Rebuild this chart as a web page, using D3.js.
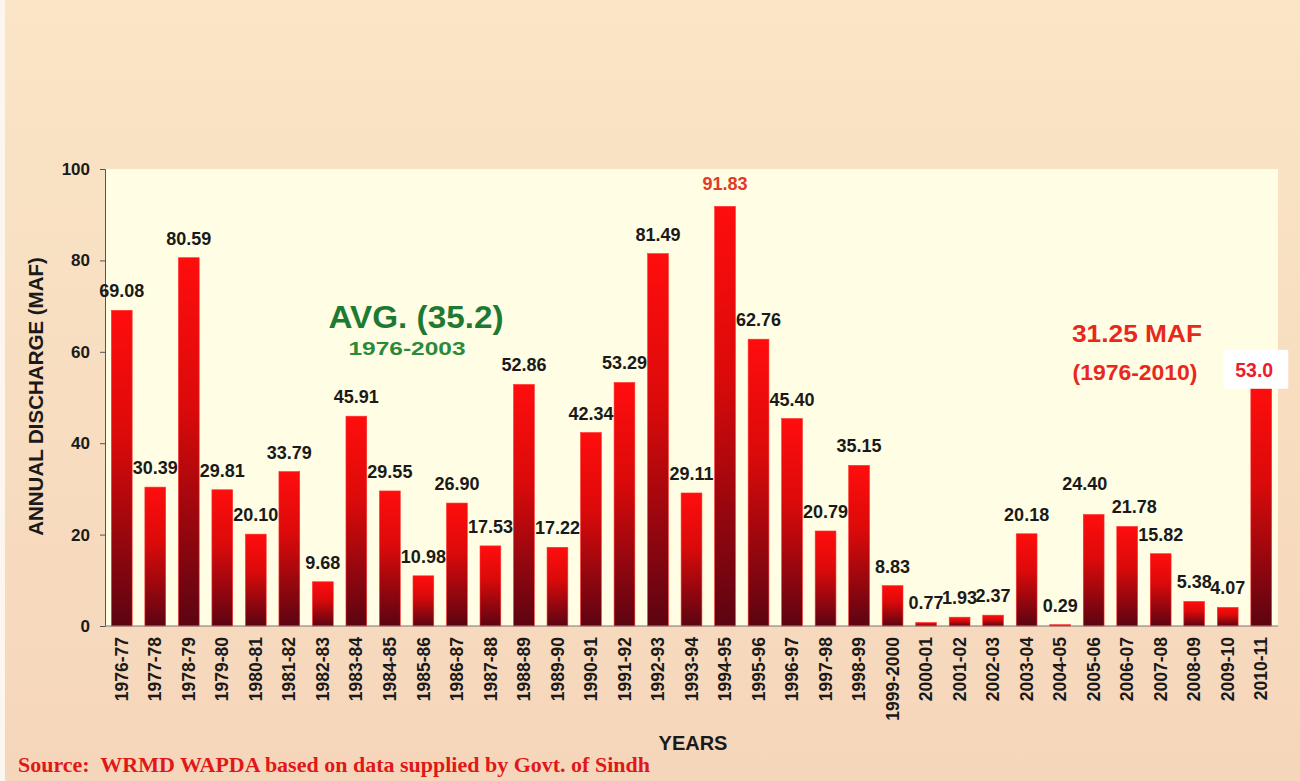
<!DOCTYPE html>
<html>
<head>
<meta charset="utf-8">
<script src="https://cdn.jsdelivr.net/npm/d3@7"></script>
<style>
  body { margin: 0; background: #f6dcc0; }
  svg { display: block; }
</style>
</head>
<body>
<div id="chart"></div>
<script>
// Data
const years = ["1976-77","1977-78","1978-79","1979-80","1980-81","1981-82","1982-83","1983-84",
  "1984-85","1985-86","1986-87","1987-88","1988-89","1989-90","1990-91","1991-92","1992-93",
  "1993-94","1994-95","1995-96","1996-97","1997-98","1998-99","1999-2000","2000-01","2001-02",
  "2002-03","2003-04","2004-05","2005-06","2006-07","2007-08","2008-09","2009-10","2010-11"]
const discharge = [69.08,30.39,80.59,29.81,20.10,33.79,9.68,45.91,29.55,10.98,26.90,17.53,52.86,
  17.22,42.34,53.29,81.49,29.11,91.83,62.76,45.40,20.79,35.15,8.83,0.77,1.93,2.37,20.18,0.29,
  24.40,21.78,15.82,5.38,4.07,53.0]
const labels = ["69.08","30.39","80.59","29.81","20.10","33.79","9.68","45.91","29.55","10.98",
  "26.90","17.53","52.86","17.22","42.34","53.29","81.49","29.11","91.83","62.76","45.40","20.79",
  "35.15","8.83","0.77","1.93","2.37","20.18","0.29","24.40","21.78","15.82","5.38","4.07","53.0"]
const yTicks = [0, 20, 40, 60, 80, 100]

const svgWidth = 1300
const svgHeight = 781

let margin = { top: 169, right: 22, bottom: 155, left: 105 }
let width = svgWidth - margin.left - margin.right
let height = svgHeight - margin.top - margin.bottom

// a few labels sit off-centre in the original, nudge them (index: [dx, dy])
let nudge = { 18: [0, -3], 29: [-9, -11], 30: [7, 0] }

let svg = d3.select("#chart")
  .append("svg")
  .attr("width", svgWidth)
  .attr("height", svgHeight)

let defs = svg.append("defs")

// page background, a bit lighter at the top
let bg = defs.append("linearGradient").attr("id", "bg")
  .attr("x1", 0).attr("y1", 0).attr("x2", 0).attr("y2", 1)
bg.append("stop").attr("offset", "0%").attr("stop-color", "#fae5c6")
bg.append("stop").attr("offset", "100%").attr("stop-color", "#f6d6bb")

let barGrad = defs.append("linearGradient").attr("id", "barGrad")
  .attr("x1", 0).attr("y1", 0).attr("x2", 0).attr("y2", 1)
barGrad.append("stop").attr("offset", "0%").attr("stop-color", "#ff0d0d")
barGrad.append("stop").attr("offset", "40%").attr("stop-color", "#dc0a0a")
barGrad.append("stop").attr("offset", "100%").attr("stop-color", "#5c0412")

svg.append("rect").attr("width", svgWidth).attr("height", svgHeight).attr("fill", "url(#bg)")
// scan edge on the left
svg.append("rect").attr("width", 5).attr("height", svgHeight).attr("fill", "#fdf6ee")

let chartGroup = svg.append("g")
  .attr("transform", `translate(${margin.left}, ${margin.top})`)

let x = d3.scaleBand().domain(years).range([0, width]).paddingInner(0.38).paddingOuter(0.19)
let y = d3.scaleLinear().domain([0, 100]).range([height, 0])

// plot area
chartGroup.append("rect")
  .attr("width", width).attr("height", height)
  .attr("fill", "#fffde3")

// bars
chartGroup.selectAll("rect.bar")
  .data(discharge)
  .enter()
  .append("rect")
  .attr("class", "bar")
  .attr("x", (d, i) => x(years[i]))
  .attr("y", d => y(d))
  .attr("width", x.bandwidth())
  .attr("height", d => height - y(d))
  .attr("fill", "url(#barGrad)")
  .attr("stroke", "#ff3030")
  .attr("stroke-width", 0.6)

// axes
let leftAxis = d3.axisLeft(y).tickValues(yTicks).tickSize(5).tickPadding(10)
let yAxis = chartGroup.append("g").call(leftAxis)
yAxis.select(".domain").attr("stroke", "#555")
yAxis.selectAll(".tick line").attr("stroke", "#555")
yAxis.selectAll("text")
  .style("font", "bold 17px 'Liberation Sans', Arial, sans-serif")
  .attr("fill", "#1a1a1a")

chartGroup.append("line")
  .attr("x1", 0).attr("x2", width).attr("y1", height).attr("y2", height)
  .attr("stroke", "#777").attr("stroke-width", 1)

let bottomAxis = d3.axisBottom(x).tickSize(0).tickPadding(0)
let xAxis = chartGroup.append("g")
  .attr("transform", `translate(0, ${height})`)
  .call(bottomAxis)
xAxis.select(".domain").remove()
xAxis.selectAll("text")
  .attr("transform", "rotate(-90)")
  .attr("text-anchor", "end")
  .attr("x", -11)
  .attr("y", 0)
  .attr("dy", "0.35em")
  .style("font", "bold 17.5px 'Liberation Sans', Arial, sans-serif")
  .attr("fill", "#1a1a1a")

// value labels
chartGroup.selectAll("text.val")
  .data(discharge)
  .enter()
  .append("text")
  .attr("class", "val")
  .attr("x", (d, i) => x(years[i]) + x.bandwidth() / 2 + (nudge[i] ? nudge[i][0] : 0))
  .attr("y", (d, i) => y(d) - 13 + (nudge[i] ? nudge[i][1] : 0))
  .attr("text-anchor", "middle")
  .style("font", "bold 18px 'Liberation Sans', Arial, sans-serif")
  .attr("fill", (d, i) => i === 18 ? "#e23a26" : "#1a1a1a")
  .text((d, i) => i === 34 ? "" : labels[i])

// last label in a white box
let lastX = x(years[34]) + x.bandwidth() / 2
let lastGroup = chartGroup.append("g")
lastGroup.append("rect")
  .attr("x", lastX - 38).attr("y", y(53.0) - 34)
  .attr("width", 65).attr("height", 39)
  .attr("fill", "#ffffff")
lastGroup.append("text")
  .attr("x", lastX - 7).attr("y", y(53.0) - 7)
  .attr("text-anchor", "middle")
  .style("font", "bold 19.5px 'Liberation Sans', Arial, sans-serif")
  .attr("fill", "#e8202a")
  .text(labels[34])

// annotations
svg.append("text")
  .attr("x", 416).attr("y", 328)
  .attr("text-anchor", "middle")
  .attr("textLength", 175).attr("lengthAdjust", "spacingAndGlyphs")
  .style("font", "bold 32px 'Liberation Sans', Arial, sans-serif")
  .attr("fill", "#1e7a32")
  .text("AVG. (35.2)")
svg.append("text")
  .attr("x", 407).attr("y", 355)
  .attr("text-anchor", "middle")
  .attr("textLength", 117).attr("lengthAdjust", "spacingAndGlyphs")
  .style("font", "bold 19px 'Liberation Sans', Arial, sans-serif")
  .attr("fill", "#2a8a3a")
  .text("1976-2003")

svg.append("text")
  .attr("x", 1137).attr("y", 342)
  .attr("text-anchor", "middle")
  .attr("textLength", 130).attr("lengthAdjust", "spacingAndGlyphs")
  .style("font", "bold 24px 'Liberation Sans', Arial, sans-serif")
  .attr("fill", "#e8281e")
  .text("31.25 MAF")
svg.append("text")
  .attr("x", 1135).attr("y", 380)
  .attr("text-anchor", "middle")
  .attr("textLength", 125).attr("lengthAdjust", "spacingAndGlyphs")
  .style("font", "bold 22px 'Liberation Sans', Arial, sans-serif")
  .attr("fill", "#e8281e")
  .text("(1976-2010)")

// axis titles
svg.append("text")
  .attr("transform", `translate(43, ${margin.top + height / 2 - 1}) rotate(-90)`)
  .attr("text-anchor", "middle")
  .style("font", "bold 20.5px 'Liberation Sans', Arial, sans-serif")
  .attr("fill", "#1a1a1a")
  .text("ANNUAL DISCHARGE (MAF)")

svg.append("text")
  .attr("x", 693).attr("y", 750)
  .attr("text-anchor", "middle")
  .style("font", "bold 20px 'Liberation Sans', Arial, sans-serif")
  .attr("fill", "#1a1a1a")
  .text("YEARS")

svg.append("text")
  .attr("x", 18).attr("y", 772)
  .attr("textLength", 632).attr("lengthAdjust", "spacingAndGlyphs")
  .style("font", "bold 22px 'Liberation Serif', 'Times New Roman', serif")
  .style("white-space", "pre")
  .attr("fill", "#e01818")
  .text("Source:  WRMD WAPDA based on data supplied by Govt. of Sindh")
</script>
</body>
</html>
